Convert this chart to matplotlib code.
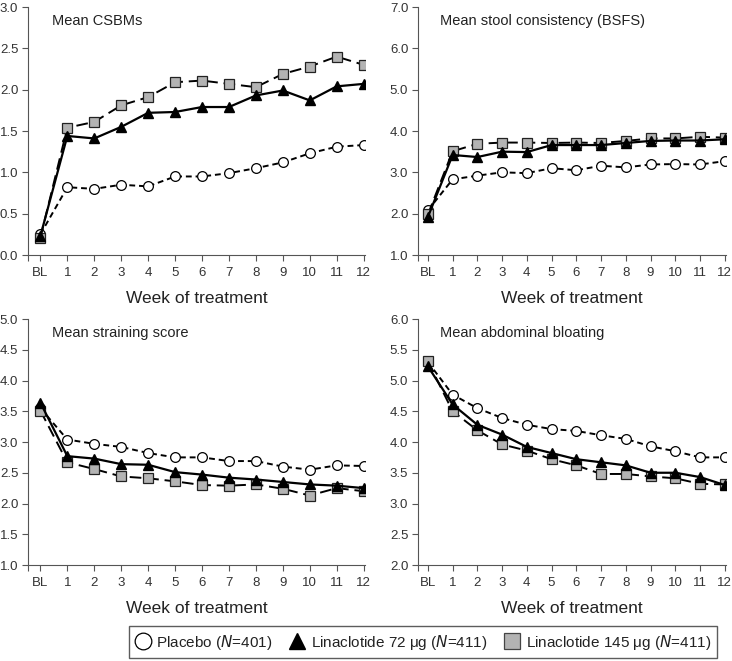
import matplotlib.pyplot as plt
from matplotlib.lines import Line2D

plt.rcParams['font.family'] = ['Liberation Sans', 'DejaVu Sans']

weeks = list(range(13))
week_labels = ['BL'] + [str(i) for i in range(1, 13)]

# Mean CSBMs
csbm_placebo = [0.25, 0.82, 0.80, 0.85, 0.83, 0.95, 0.95, 0.99, 1.05, 1.12, 1.23, 1.31, 1.33]
csbm_lin72 = [0.23, 1.44, 1.41, 1.55, 1.72, 1.73, 1.79, 1.79, 1.93, 1.99, 1.87, 2.04, 2.07]
csbm_lin145 = [0.21, 1.54, 1.61, 1.81, 1.91, 2.09, 2.11, 2.07, 2.03, 2.19, 2.28, 2.40, 2.30]

# Mean stool consistency (BSFS)
bsfs_placebo = [2.08, 2.83, 2.92, 3.00, 2.98, 3.10, 3.05, 3.16, 3.12, 3.19, 3.20, 3.19, 3.27]
bsfs_lin72 = [1.92, 3.42, 3.37, 3.50, 3.49, 3.66, 3.66, 3.66, 3.71, 3.76, 3.77, 3.77, 3.80]
bsfs_lin145 = [1.98, 3.51, 3.69, 3.72, 3.72, 3.71, 3.72, 3.71, 3.76, 3.82, 3.82, 3.86, 3.84]

# Mean straining score
strain_placebo = [3.55, 3.04, 2.97, 2.92, 2.82, 2.75, 2.75, 2.69, 2.69, 2.60, 2.55, 2.62, 2.61]
strain_lin72 = [3.64, 2.77, 2.73, 2.64, 2.63, 2.51, 2.47, 2.42, 2.39, 2.35, 2.31, 2.29, 2.25]
strain_lin145 = [3.51, 2.67, 2.56, 2.44, 2.41, 2.36, 2.30, 2.29, 2.31, 2.24, 2.13, 2.25, 2.20]

# Mean abdominal bloating
bloat_placebo = [5.30, 4.77, 4.55, 4.39, 4.28, 4.21, 4.18, 4.11, 4.05, 3.93, 3.85, 3.75, 3.75]
bloat_lin72 = [5.23, 4.61, 4.28, 4.12, 3.92, 3.82, 3.72, 3.67, 3.62, 3.50, 3.50, 3.43, 3.30]
bloat_lin145 = [5.31, 4.50, 4.19, 3.96, 3.86, 3.72, 3.62, 3.48, 3.48, 3.44, 3.41, 3.32, 3.31]

panels = [
    ('Mean CSBMs', csbm_placebo, csbm_lin72, csbm_lin145, (0.0, 3.0), 0.5),
    ('Mean stool consistency (BSFS)', bsfs_placebo, bsfs_lin72, bsfs_lin145, (1.0, 7.0), 1.0),
    ('Mean straining score', strain_placebo, strain_lin72, strain_lin145, (1.0, 5.0), 0.5),
    ('Mean abdominal bloating', bloat_placebo, bloat_lin72, bloat_lin145, (2.0, 6.0), 0.5),
]

# axes boxes in pixels: left, bottom, right, top
W, H = 732, 661
rects = [
    (28, 255, 365, 7),
    (418, 255, 726, 7),
    (28, 565, 365, 319),
    (418, 565, 726, 319),
]
xlims = [(-0.46, 12.05), (-0.40, 12.05), (-0.46, 12.05), (-0.40, 12.05)]

fig = plt.figure(figsize=(W / 100, H / 100), dpi=100)
txt = '#222222'
gray = '#333333'

for (title, pl, l72, l145, ylim, step), (x0, yb, x1, yt), xl in zip(panels, rects, xlims):
    ax = fig.add_axes([x0 / W, 1 - yb / H, (x1 - x0) / W, (yb - yt) / H])
    ax.plot(weeks, pl, color='black', lw=1.4, ls=(0, (3, 2)), marker='o', ms=7,
            mfc='white', mec='black', mew=0.9, zorder=3)
    ax.plot(weeks, l145, color='black', lw=1.4, ls=(0, (6, 3)), marker='s', ms=7,
            mfc='#b3b3b3', mec='#222222', mew=0.9, zorder=4)
    ax.plot(weeks, l72, color='black', lw=1.6, ls='-', marker='^', ms=7.5,
            mfc='black', mec='black', zorder=5)
    ax.set_xlim(*xl)
    ax.set_ylim(*ylim)
    n = int(round((ylim[1] - ylim[0]) / step))
    yt_vals = [ylim[0] + i * step for i in range(n + 1)]
    ax.set_yticks(yt_vals)
    ax.set_yticklabels(['%.1f' % v for v in yt_vals])
    ax.set_xticks([xl[0]] + weeks)
    ax.set_xticklabels([''] + week_labels)
    ax.spines['top'].set_visible(False)
    ax.spines['right'].set_visible(False)
    ax.spines['left'].set_color('#555555')
    ax.spines['bottom'].set_color('#555555')
    ax.tick_params(direction='out', length=4, width=0.8, colors='#555555',
                   labelsize=9.5, labelcolor=gray)
    ax.tick_params(axis='x', pad=5)
    ax.tick_params(axis='y', pad=3)
    ax.set_xlabel('Week of treatment', fontsize=12.5, color=txt, labelpad=8)
    ax.text(0.07, 0.97, title, transform=ax.transAxes, fontsize=10.5,
            color=txt, va='top', ha='left')

handles = [
    Line2D([], [], ls='none', marker='o', ms=12, mfc='white', mec='black', mew=0.9),
    Line2D([], [], ls='none', marker='^', ms=12, mfc='black', mec='black'),
    Line2D([], [], ls='none', marker='s', ms=11, mfc='#b3b3b3', mec='#444444', mew=0.9),
]
labels = ['Placebo ($\\it{N}$=401)', 'Linaclotide 72 \u03bcg ($\\it{N}$=411)',
          'Linaclotide 145 \u03bcg ($\\it{N}$=411)']
fig.legend(handles, labels, loc='center', bbox_to_anchor=(423 / W, 1 - 642 / H),
           ncol=3, frameon=True, fancybox=False, edgecolor='#333333', fontsize=11,
           handlelength=1.0, handletextpad=0.4, columnspacing=1.1,
           borderpad=0.4, labelcolor=txt)

fig.savefig('out.png', dpi=100)
